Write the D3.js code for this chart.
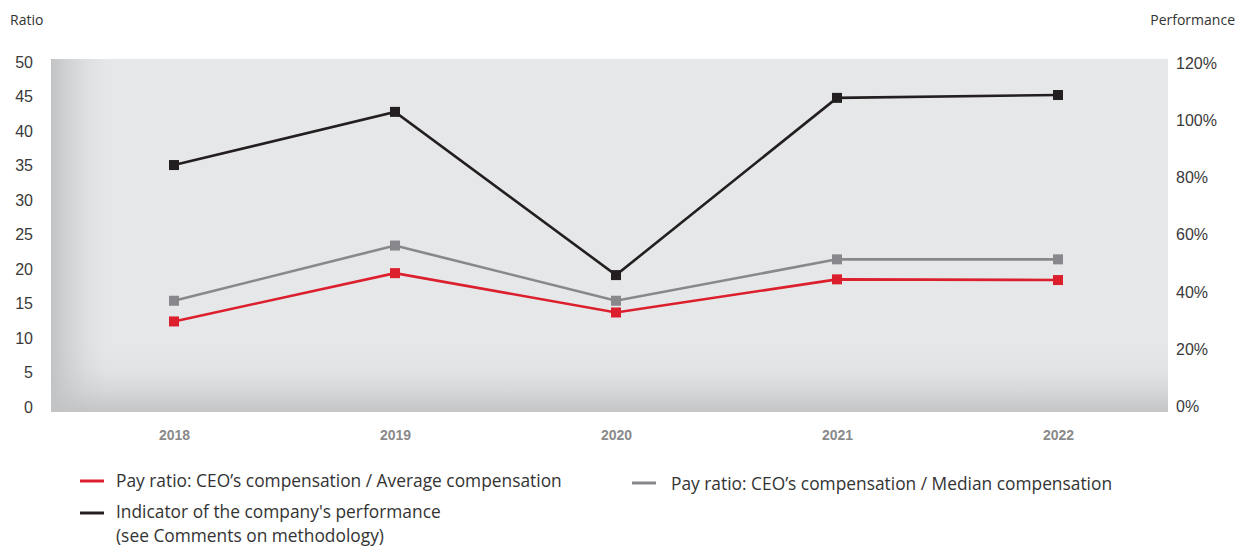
<!DOCTYPE html>
<html><head><meta charset="utf-8">
<script src="https://cdn.jsdelivr.net/npm/d3@7"></script>
<style>
html,body{margin:0;padding:0;background:#fff;}
svg{display:block;font-family:"Open Sans","Liberation Sans",sans-serif;}
</style></head>
<body><svg id="c" width="1240" height="547"></svg>
<script>
const years = ["2018","2019","2020","2021","2022"];
const avgRatio = [12.4, 19.4, 13.7, 18.5, 18.4];
const medianRatio = [15.4, 23.4, 15.4, 21.4, 21.4];
const performance = [84.3, 102.9, 45.8, 107.8, 108.8];
const leftTicks = [0,5,10,15,20,25,30,35,40,45,50];
const rightTicks = [0,20,40,60,80,100,120];
const legendLabels = ["Pay ratio: CEO\u2019s compensation / Average compensation",
  "Pay ratio: CEO\u2019s compensation / Median compensation",
  "Indicator of the company's performance",
  "(see Comments on methodology)"];

const svg = d3.select("#c");
const plot = {x0:51, x1:1168, y0:59, y1:412};
const x = d3.scalePoint().domain(years).range([174,1058]);
const yL = d3.scaleLinear().domain([0,50]).range([407,62]);
const yR = d3.scaleLinear().domain([0,120]).range([406,63]);

const defs = svg.append("defs");
const gL = defs.append("linearGradient").attr("id","gl").attr("x1","0").attr("x2","1").attr("y1","0").attr("y2","0");
[[0,0.95],[0.3,0.55],[0.65,0.2],[1,0]].forEach(([o,a])=>gL.append("stop").attr("offset",o).attr("stop-color","#c0c1c3").attr("stop-opacity",a));
const gB = defs.append("linearGradient").attr("id","gb").attr("x1","0").attr("x2","0").attr("y1","0").attr("y2","1");
[[0,0],[0.4,0.12],[0.7,0.45],[1,0.95]].forEach(([o,a])=>gB.append("stop").attr("offset",o).attr("stop-color","#c2c3c5").attr("stop-opacity",a));

svg.append("rect").attr("x",plot.x0).attr("y",plot.y0).attr("width",plot.x1-plot.x0).attr("height",plot.y1-plot.y0).attr("fill","#e6e7e9");
svg.append("rect").attr("x",plot.x0).attr("y",plot.y0).attr("width",55).attr("height",plot.y1-plot.y0).attr("fill","url(#gl)");
svg.append("rect").attr("x",plot.x0).attr("y",plot.y1-70).attr("width",plot.x1-plot.x0).attr("height",70).attr("fill","url(#gb)");

// axes
const axL = svg.append("g").attr("transform",`translate(33,0)`)
  .call(d3.axisLeft(yL).tickValues(leftTicks).tickSize(0).tickPadding(0));
axL.select(".domain").remove();
axL.selectAll("text").attr("font-size",16).attr("fill","#3a3a3a").attr("dy","0.34em");

const axR = svg.append("g").attr("transform",`translate(1176,0)`)
  .call(d3.axisRight(yR).tickValues(rightTicks).tickFormat(d=>d+"%").tickSize(0).tickPadding(0));
axR.select(".domain").remove();
axR.selectAll("text").attr("font-size",16).attr("fill","#3a3a3a").attr("dy","0.34em");

const axB = svg.append("g").attr("transform",`translate(0,430)`)
  .call(d3.axisBottom(x).tickSize(0).tickPadding(0));
axB.select(".domain").remove();
axB.selectAll("text").attr("font-size",14).attr("font-weight","bold").attr("fill","#8a8a8a").attr("dy","0.71em");

svg.append("text").attr("x",10).attr("y",25).attr("font-size",14).attr("fill","#333").text("Ratio");
svg.append("text").attr("x",1235).attr("y",25).attr("text-anchor","end").attr("font-size",14).attr("fill","#333").text("Performance");

const series = [
  {vals: performance, y: yR, color:"#231f20"},
  {vals: medianRatio, y: yL, color:"#88888c"},
  {vals: avgRatio, y: yL, color:"#dc1f2c"}
];
series.forEach(s=>{
  const pts = years.map((yr,i)=>[x(yr), s.y(s.vals[i])]);
  svg.append("path").attr("d", d3.line()(pts)).attr("fill","none").attr("stroke",s.color).attr("stroke-width",2.6);
  svg.selectAll(null).data(pts).enter().append("rect")
    .attr("x",d=>d[0]-5).attr("y",d=>d[1]-5).attr("width",10).attr("height",10).attr("fill",s.color);
});

// legend
function legLine(x0,y0,color){ svg.append("line").attr("x1",x0).attr("x2",x0+24).attr("y1",y0).attr("y2",y0).attr("stroke",color).attr("stroke-width",3); }
legLine(80,481,"#dc1f2c");
legLine(632,483,"#88888c");
legLine(80,513,"#231f20");
const legItems = [
  {t:legendLabels[0], x:116, y:487},
  {t:legendLabels[1], x:671, y:490},
  {t:legendLabels[2], x:116, y:518},
  {t:legendLabels[3], x:116, y:542}
];
const texts = legItems.map(d=>svg.append("text").attr("x",0).attr("y",0).attr("font-size",18).attr("fill","#333").text(d.t));
const sx = 446/texts[0].node().getComputedTextLength();
texts.forEach((t,i)=>t.attr("transform",`translate(${legItems[i].x},${legItems[i].y}) scale(${sx},1)`));
</script></body></html>
